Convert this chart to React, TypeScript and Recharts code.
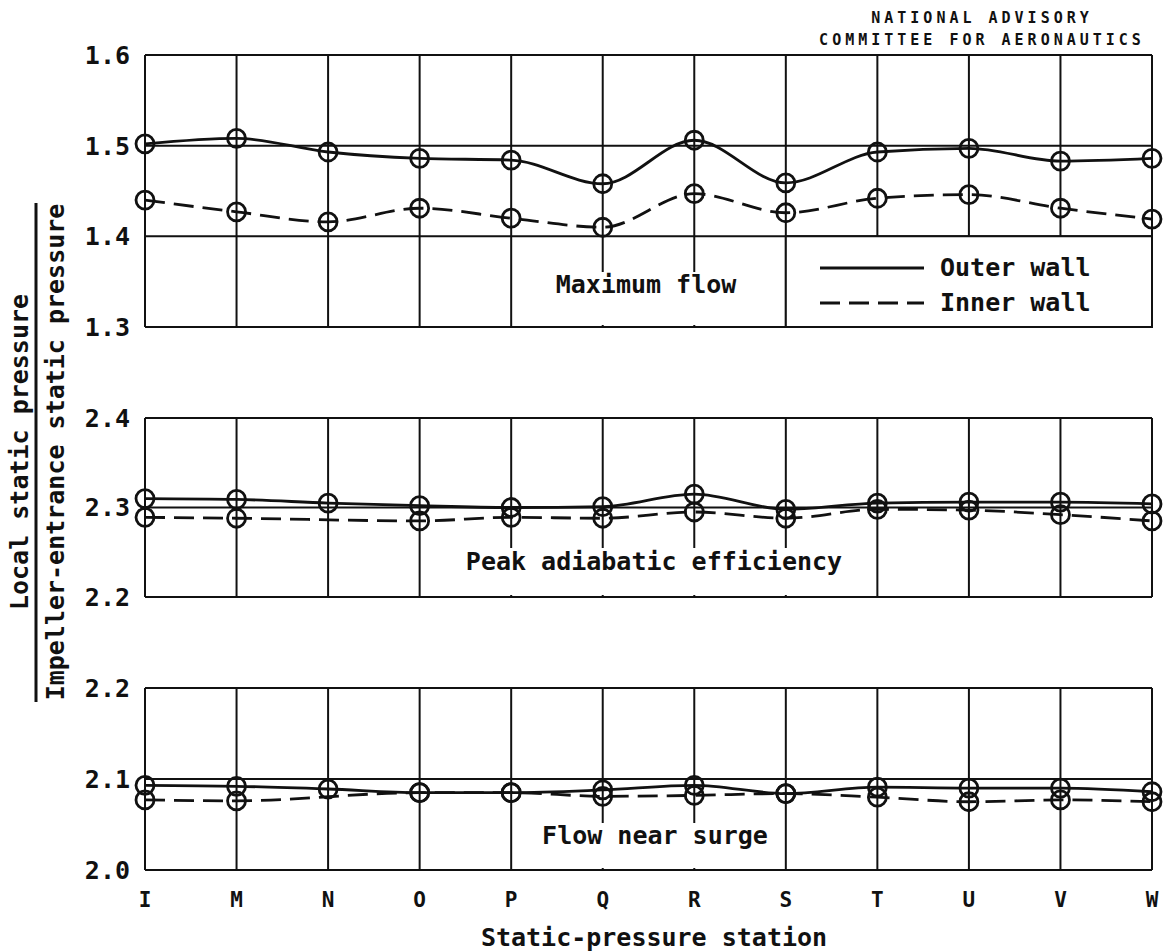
import React from 'react';
import { LineChart, Line, XAxis, YAxis, CartesianGrid, ReferenceArea } from 'recharts';

// static-pressure stations along the diffuser
const stations = ['I', 'M', 'N', 'O', 'P', 'Q', 'R', 'S', 'T', 'U', 'V', 'W'];

// Maximum flow
const maxFlowOuter = [1.502, 1.508, 1.493, 1.486, 1.484, 1.458, 1.506, 1.459, 1.493, 1.497, 1.483, 1.486];
const maxFlowInner = [1.440, 1.427, 1.416, 1.431, 1.420, 1.410, 1.447, 1.426, 1.442, 1.446, 1.431, 1.419];
const maxFlowTicks = [1.3, 1.4, 1.5, 1.6];

// Peak adiabatic efficiency (no inner-wall reading at N)
const peakOuter = [2.310, 2.309, 2.305, 2.302, 2.300, 2.301, 2.315, 2.298, 2.305, 2.306, 2.306, 2.304];
const peakInner = [2.289, 2.288, null, 2.285, 2.289, 2.288, 2.295, 2.288, 2.298, 2.297, 2.292, 2.285];
const peakTicks = [2.2, 2.3, 2.4];

// Flow near surge (no inner-wall reading at N)
const surgeOuter = [2.093, 2.092, 2.089, 2.085, 2.085, 2.088, 2.093, 2.084, 2.091, 2.090, 2.090, 2.086];
const surgeInner = [2.077, 2.076, null, 2.085, 2.085, 2.081, 2.082, 2.084, 2.080, 2.075, 2.077, 2.075];
const surgeTicks = [2.0, 2.1, 2.2];

const FONT = '"DejaVu Sans Mono", monospace';
const INK = '#111';
const DASH = '20 9';

const build = (outer: (number | null)[], inner: (number | null)[]) =>
    stations.map((s, i) => ({ station: s, outer: outer[i], inner: inner[i] }));

// open circle marker, drawn without the line's dash pattern
const Ring = (props: any) => {
    const { cx, cy, index, value } = props;
    if (cx == null || cy == null || value == null) return <g key={`e-${index}`} />;
    return <circle key={`c-${index}`} cx={cx} cy={cy} r={9} fill="none" stroke={INK} strokeWidth={2.8} />;
};

interface PanelProps {
    top: number;
    height: number;
    marginTop: number;
    marginBottom: number;
    data: any[];
    domain: [number, number];
    ticks: number[];
    showX?: boolean;
    children?: React.ReactNode;
}

const Panel: React.FC<PanelProps> = ({ top, height, marginTop, marginBottom, data, domain, ticks, showX, children }) => (
    <div style={{ position: 'absolute', left: 0, top }}>
        <LineChart width={1170} height={height} data={data} margin={{ top: marginTop, right: 18, bottom: marginBottom, left: 0 }}>
            <CartesianGrid stroke={INK} strokeWidth={2} />
            <XAxis
                dataKey="station"
                hide={!showX}
                interval={0}
                axisLine={false}
                tickLine={false}
                tickMargin={16}
                height={81}
                tick={{ fill: INK, fontSize: 21, fontFamily: FONT, fontWeight: 'bold' }}
            />
            <YAxis
                type="number"
                domain={domain}
                ticks={ticks}
                interval={0}
                width={145}
                axisLine={false}
                tickLine={false}
                tickMargin={9}
                tickFormatter={(v: number) => v.toFixed(1)}
                tick={{ fill: INK, fontSize: 25, fontFamily: FONT, fontWeight: 'bold' }}
            />
            {children}
            <Line dataKey="outer" type="monotone" stroke={INK} strokeWidth={2.8} dot={Ring} activeDot={false} isAnimationActive={false} />
            <Line dataKey="inner" type="monotone" stroke={INK} strokeWidth={2.8} strokeDasharray={DASH} connectNulls dot={Ring} activeDot={false} isAnimationActive={false} />
        </LineChart>
    </div>
);

const txt = { fontFamily: FONT, fontWeight: 'bold' as const, fill: INK };

export default function App() {
    return (
        <div style={{ position: 'absolute', left: 0, top: 0, width: 1170, height: 951, background: '#fff', overflow: 'hidden' }}>
            <Panel top={0} height={370} marginTop={55} marginBottom={43} data={build(maxFlowOuter, maxFlowInner)} domain={[1.3, 1.6]} ticks={maxFlowTicks}>
                <ReferenceArea x1="S" x2="W" y1={1.3} y2={1.4} fill="#fff" fillOpacity={1} stroke={INK} strokeWidth={2} />
            </Panel>
            <Panel top={340} height={300} marginTop={78} marginBottom={43} data={build(peakOuter, peakInner)} domain={[2.2, 2.4]} ticks={peakTicks} />
            <Panel top={610} height={341} marginTop={78} marginBottom={0} data={build(surgeOuter, surgeInner)} domain={[2.0, 2.2]} ticks={surgeTicks} showX />

            <svg width={1170} height={951} style={{ position: 'absolute', left: 0, top: 0, pointerEvents: 'none' }}>
                {/* title block */}
                <text x={982} y={23} textAnchor="middle" fontSize={15} letterSpacing={4} {...txt}>NATIONAL ADVISORY</text>
                <text x={982} y={45} textAnchor="middle" fontSize={15} letterSpacing={4} {...txt}>COMMITTEE FOR AERONAUTICS</text>

                {/* y axis title as a fraction */}
                <text transform="translate(28,452) rotate(-90)" textAnchor="middle" fontSize={25} {...txt}>Local static pressure</text>
                <line x1={36} x2={36} y1={203} y2={702} stroke={INK} strokeWidth={3} />
                <text transform="translate(64,452) rotate(-90)" textAnchor="middle" fontSize={25} {...txt}>Impeller-entrance static pressure</text>

                {/* panel captions, on white so the grid stops at them */}
                <rect x={540} y={272} width={212} height={53} fill="#fff" />
                <text x={646} y={293} textAnchor="middle" fontSize={25} {...txt}>Maximum flow</text>

                <rect x={455} y={548} width={397} height={47} fill="#fff" />
                <text x={654} y={570} textAnchor="middle" fontSize={25} {...txt}>Peak adiabatic efficiency</text>

                <rect x={532} y={823} width={245} height={45} fill="#fff" />
                <text x={655} y={844} textAnchor="middle" fontSize={25} {...txt}>Flow near surge</text>

                {/* legend */}
                <line x1={820} x2={924} y1={268} y2={268} stroke={INK} strokeWidth={2.8} />
                <text x={940} y={276} fontSize={25} {...txt}>Outer wall</text>
                <line x1={820} x2={924} y1={303} y2={303} stroke={INK} strokeWidth={2.8} strokeDasharray={DASH} />
                <text x={940} y={311} fontSize={25} {...txt}>Inner wall</text>

                {/* x axis title */}
                <text x={654} y={946} textAnchor="middle" fontSize={25} {...txt}>Static-pressure station</text>
            </svg>
        </div>
    );
}
